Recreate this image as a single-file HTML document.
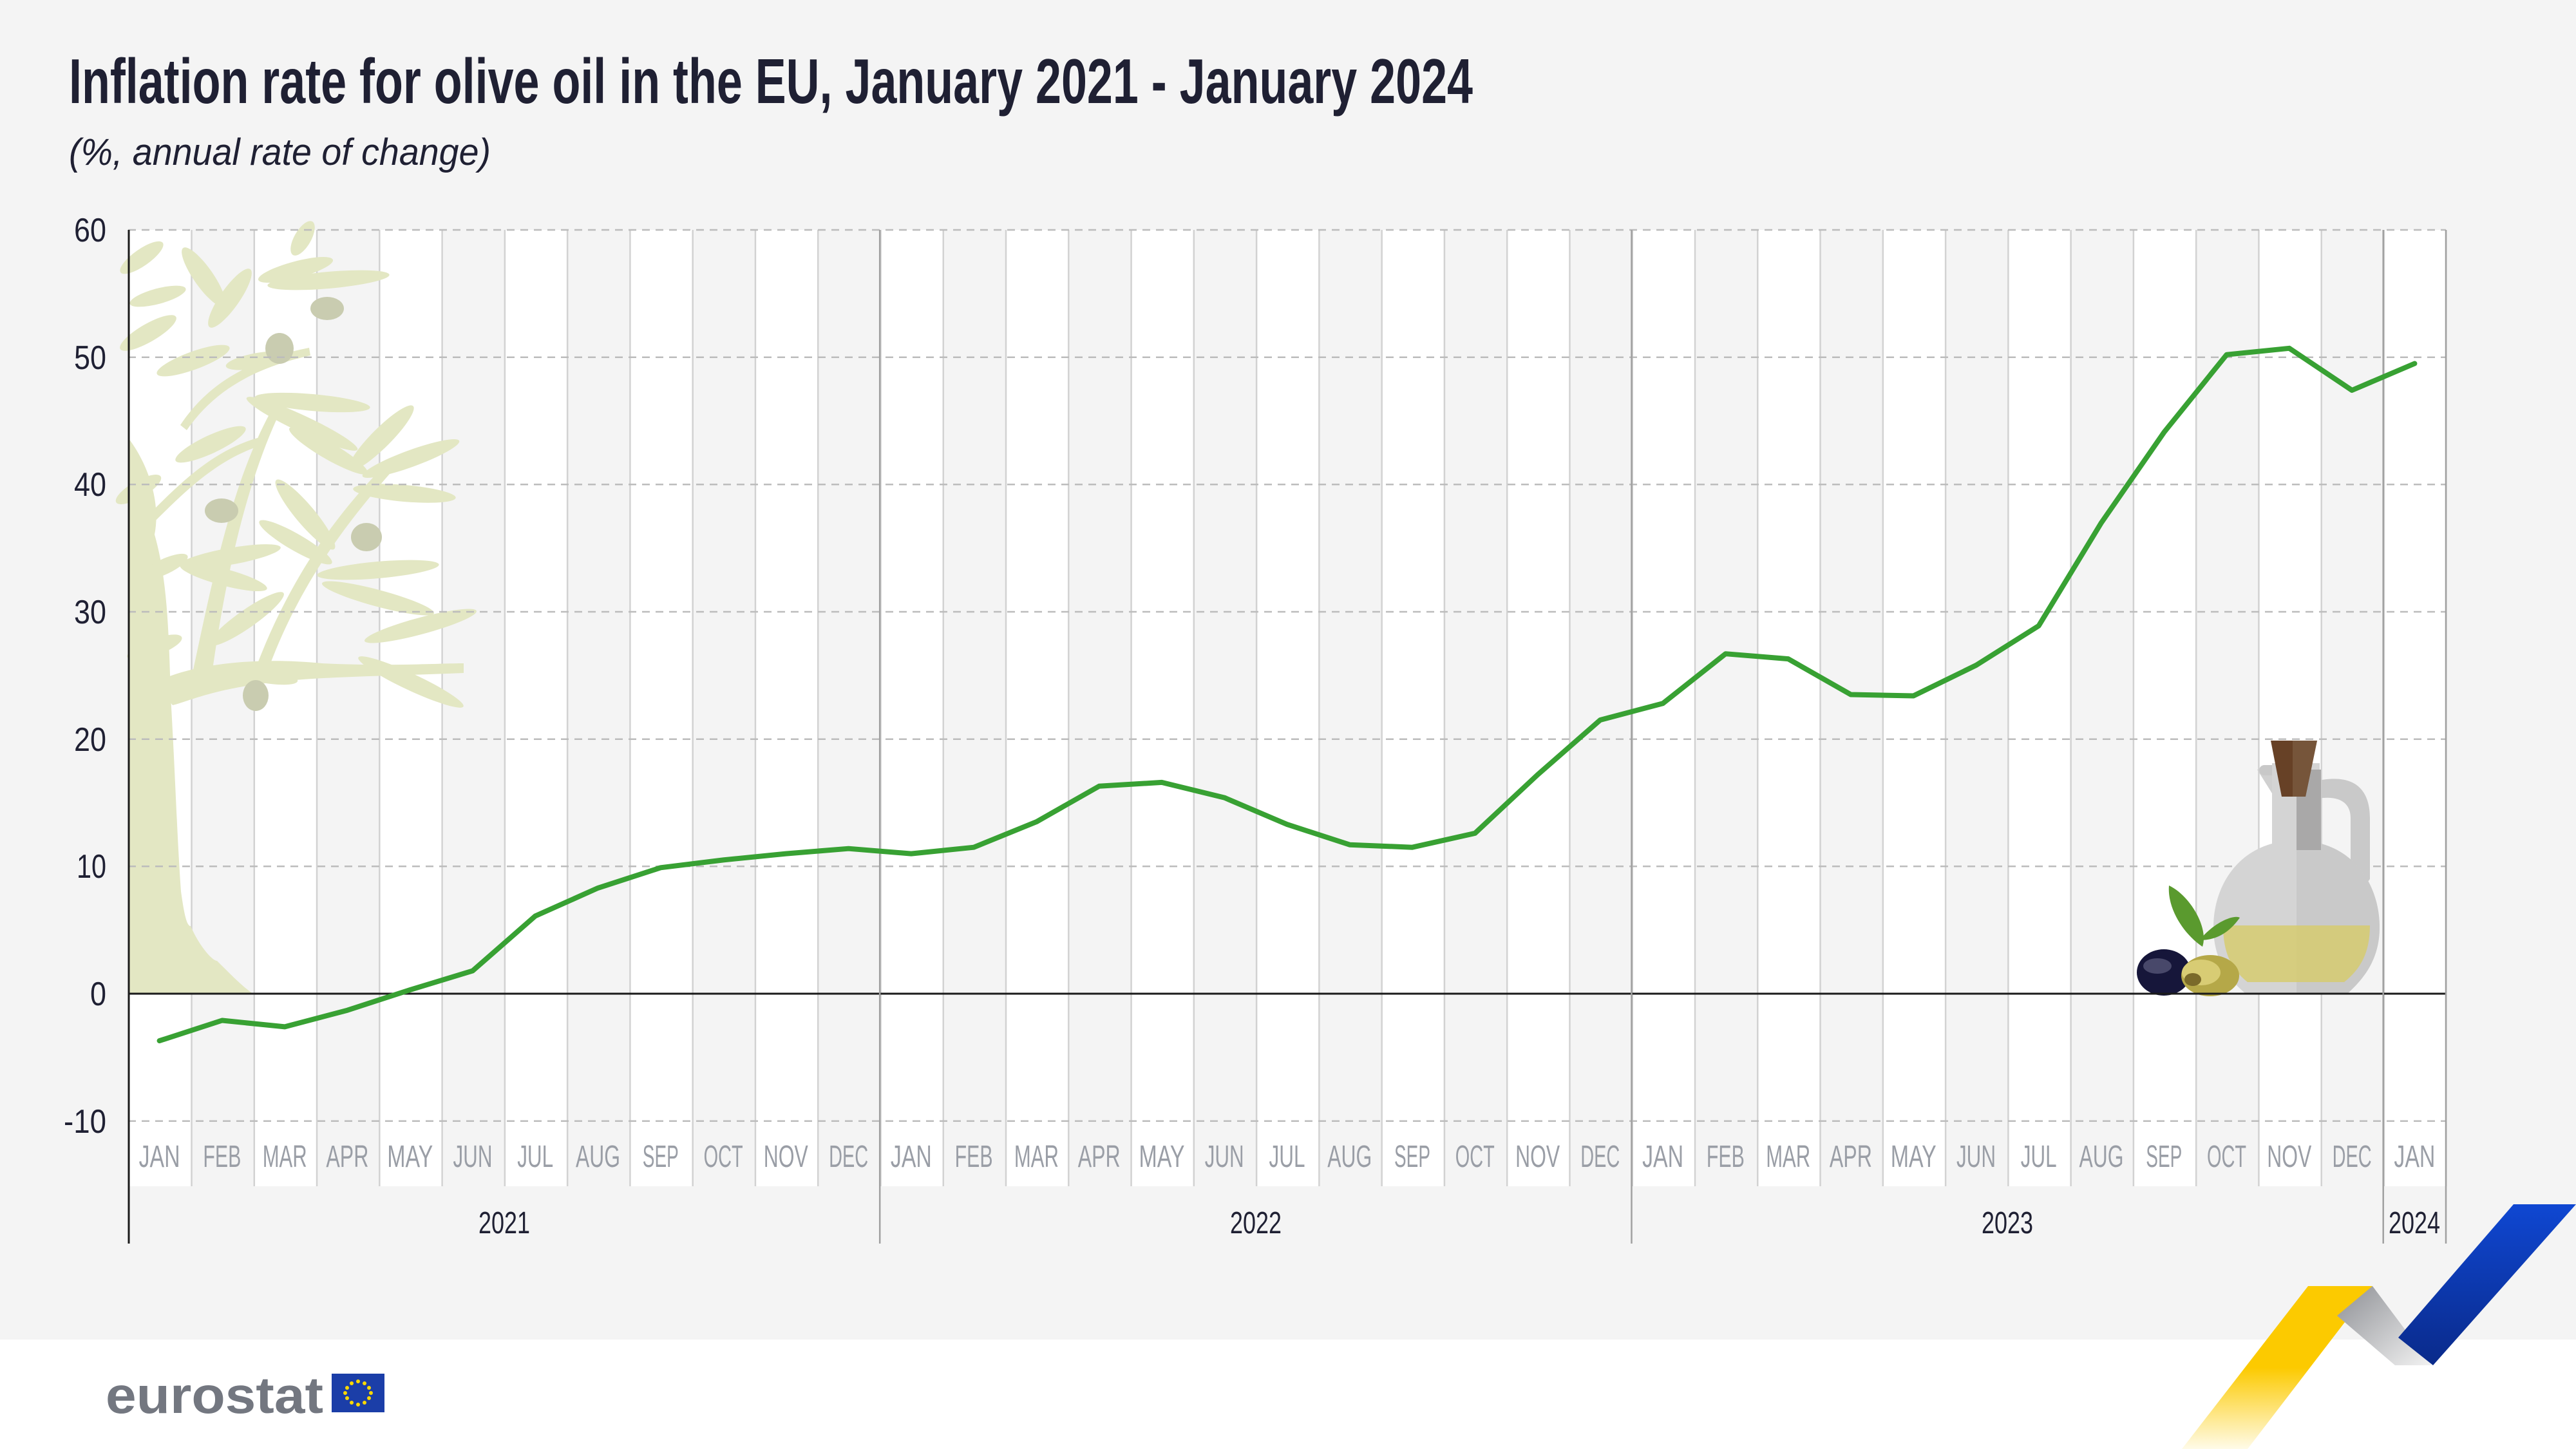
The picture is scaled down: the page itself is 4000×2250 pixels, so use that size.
<!DOCTYPE html>
<html><head><meta charset="utf-8"><style>
html,body{margin:0;padding:0;background:#f4f4f4;}
svg{display:block;}
</style></head><body>
<svg width="4000" height="2250" viewBox="0 0 4000 2250" xmlns="http://www.w3.org/2000/svg" font-family="'Liberation Sans Narrow','Liberation Sans',sans-serif">
<defs>
<pattern id="cols" patternUnits="userSpaceOnUse" x="199" y="0" width="194.54" height="2250">
<rect x="0" y="0" width="97.27" height="2250" fill="#ffffff"/>
<rect x="0" y="0" width="2.5" height="2250" fill="#d2d2d2"/>
<rect x="97.27" y="0" width="2.5" height="2250" fill="#d2d2d2"/>
</pattern>
<linearGradient id="yg" x1="0" y1="0" x2="0" y2="1"><stop offset="0" stop-color="#fcca00"/><stop offset="0.5" stop-color="#fcca00"/><stop offset="1" stop-color="#fffbe8"/></linearGradient>
<linearGradient id="gg" x1="0" y1="0" x2="1" y2="1"><stop offset="0" stop-color="#8e9095"/><stop offset="1" stop-color="#f2f2f2"/></linearGradient>
<linearGradient id="bg" x1="0" y1="0" x2="0" y2="1"><stop offset="0" stop-color="#0f47d2"/><stop offset="1" stop-color="#0a2a8a"/></linearGradient>
</defs>
<rect x="0" y="0" width="4000" height="2250" fill="#f4f4f4"/>
<rect x="0" y="2080" width="4000" height="170" fill="#ffffff"/>

<!-- title -->
<text x="107" y="160" font-size="98" font-weight="bold" fill="#1f2033" textLength="2180" lengthAdjust="spacingAndGlyphs">Inflation rate for olive oil in the EU, January 2021 - January 2024</text>
<text x="107" y="256" font-size="58" font-style="italic" fill="#1f2033" font-family="'Liberation Sans',sans-serif" textLength="655" lengthAdjust="spacingAndGlyphs">(%, annual rate of change)</text>

<!-- columns -->
<rect x="199" y="357" width="3599" height="1485" fill="url(#cols)"/>
<rect x="3797" y="357" width="2.5" height="1485" fill="#d2d2d2"/>

<!-- tree -->
<g fill="#e3e7c3">
<path d="M199,680 C230,720 250,780 240,830 C260,900 262,980 265,1080 C273,1221 275,1300 281,1384 C286,1420 290,1438 296,1438 C310,1470 330,1492 337,1492 C360,1515 380,1535 393,1543 L199,1543 Z"/>
<path d="M240,1060 C300,1030 400,1020 500,1030 C600,1035 680,1030 720,1030 L720,1045 C600,1050 500,1050 420,1060 C330,1070 290,1090 268,1095 Z"/>
<path d="M300,1040 C330,900 360,750 420,640 L430,650 C380,760 350,900 330,1040 Z"/>
<path d="M400,1030 C450,900 520,800 600,720 L610,730 C540,810 470,900 420,1030 Z"/>
<path d="M230,800 C280,750 330,700 400,680 L405,692 C340,712 290,760 240,810 Z"/>
<path d="M280,660 C320,600 380,560 480,540 L482,552 C390,572 330,610 290,668 Z"/>
<g>
<ellipse cx="510" cy="435" rx="95" ry="13" transform="rotate(-5 510 435)"/>
<ellipse cx="459" cy="419" rx="60" ry="13" transform="rotate(-15 459 419)"/>
<ellipse cx="357" cy="463" rx="55" ry="15" transform="rotate(-55 357 463)"/>
<ellipse cx="316" cy="430" rx="55" ry="15" transform="rotate(55 316 430)"/>
<ellipse cx="230" cy="517" rx="50" ry="14" transform="rotate(-30 230 517)"/>
<ellipse cx="220" cy="400" rx="40" ry="13" transform="rotate(-35 220 400)"/>
<ellipse cx="485" cy="625" rx="90" ry="13" transform="rotate(5 485 625)"/>
<ellipse cx="469" cy="658" rx="95" ry="13" transform="rotate(25 469 658)"/>
<ellipse cx="510" cy="700" rx="70" ry="13" transform="rotate(30 510 700)"/>
<ellipse cx="592" cy="680" rx="70" ry="15" transform="rotate(-45 592 680)"/>
<ellipse cx="638" cy="712" rx="80" ry="13" transform="rotate(-20 638 712)"/>
<ellipse cx="628" cy="766" rx="80" ry="13" transform="rotate(5 628 766)"/>
<ellipse cx="327" cy="690" rx="60" ry="14" transform="rotate(-25 327 690)"/>
<ellipse cx="357" cy="864" rx="80" ry="13" transform="rotate(-10 357 864)"/>
<ellipse cx="347" cy="896" rx="70" ry="13" transform="rotate(15 347 896)"/>
<ellipse cx="474" cy="799" rx="70" ry="15" transform="rotate(50 474 799)"/>
<ellipse cx="459" cy="842" rx="65" ry="13" transform="rotate(30 459 842)"/>
<ellipse cx="587" cy="885" rx="95" ry="13" transform="rotate(-5 587 885)"/>
<ellipse cx="587" cy="929" rx="90" ry="13" transform="rotate(15 587 929)"/>
<ellipse cx="383" cy="961" rx="70" ry="14" transform="rotate(-35 383 961)"/>
<ellipse cx="653" cy="972" rx="90" ry="13" transform="rotate(-15 653 972)"/>
<ellipse cx="638" cy="1059" rx="90" ry="13" transform="rotate(25 638 1059)"/>
<ellipse cx="408" cy="1048" rx="55" ry="12" transform="rotate(10 408 1048)"/>
<ellipse cx="240" cy="1005" rx="45" ry="13" transform="rotate(-20 240 1005)"/>
<ellipse cx="215" cy="760" rx="40" ry="13" transform="rotate(-30 215 760)"/>
<ellipse cx="300" cy="560" rx="60" ry="14" transform="rotate(-20 300 560)"/>
<ellipse cx="470" cy="370" rx="30" ry="13" transform="rotate(-60 470 370)"/>
<ellipse cx="245" cy="460" rx="45" ry="12" transform="rotate(-15 245 460)"/>
<ellipse cx="400" cy="560" rx="50" ry="12" transform="rotate(-10 400 560)"/>
<ellipse cx="255" cy="880" rx="40" ry="12" transform="rotate(-25 255 880)"/>
</g>
</g>
<g fill="#c9ccb0">
<ellipse cx="508" cy="479" rx="26" ry="18"/>
<ellipse cx="434" cy="541" rx="22" ry="24"/>
<ellipse cx="344" cy="793" rx="26" ry="19"/>
<ellipse cx="569" cy="834" rx="24" ry="22"/>
<ellipse cx="397" cy="1080" rx="20" ry="24"/>
</g>

<!-- horizontal grid -->
<g stroke="#bcbcbc" stroke-width="2.5" stroke-dasharray="12,9">
<line x1="199" y1="357" x2="3798" y2="357"/>
<line x1="199" y1="554.7" x2="3798" y2="554.7"/>
<line x1="199" y1="752.3" x2="3798" y2="752.3"/>
<line x1="199" y1="950" x2="3798" y2="950"/>
<line x1="199" y1="1147.7" x2="3798" y2="1147.7"/>
<line x1="199" y1="1345.3" x2="3798" y2="1345.3"/>
<line x1="199" y1="1740.7" x2="3798" y2="1740.7"/>
</g>

<!-- jug & olives -->
<g>
<path d="M3505,1195 L3540,1190 L3530,1235 Z" fill="#d0d0d0"/>
<rect x="3508" y="1188" width="40" height="16" rx="8" fill="#c8c8c8"/>
<path d="M3600,1212 C3660,1200 3680,1230 3680,1270 L3680,1365 L3665,1385 L3650,1360 L3650,1270 C3650,1245 3630,1235 3600,1240 Z" fill="#c9c9c9"/>
<rect x="3528" y="1185" width="74" height="150" fill="#d4d4d4"/>
<path d="M3566,1305 C3650,1305 3695,1370 3695,1440 C3695,1490 3670,1520 3645,1543 L3487,1543 C3460,1520 3437,1490 3437,1440 C3437,1370 3482,1305 3566,1305 Z" fill="#d4d4d4"/>
<path d="M3566,1305 L3566,1543 L3645,1543 C3670,1520 3695,1490 3695,1440 C3695,1370 3650,1305 3566,1305 Z" fill="#c6c6c6" opacity="0.8"/>
<path d="M3452,1437 L3680,1437 C3680,1480 3665,1505 3640,1525 L3490,1525 C3465,1505 3452,1480 3452,1437 Z" fill="#d6cb70" opacity="0.85"/>
<rect x="3566" y="1195" width="38" height="125" fill="#a9a8a8"/>
<path d="M3526,1150 L3598,1150 L3580,1237 L3543,1237 Z" fill="#674126"/>
<path d="M3560,1150 L3598,1150 L3580,1237 L3560,1237 Z" fill="#7a5a40" opacity="0.8"/>
<path d="M3368,1375 C3400,1390 3430,1440 3420,1470 C3390,1450 3365,1410 3368,1375 Z" fill="#5a9a2e"/>
<path d="M3415,1460 C3440,1430 3470,1420 3478,1425 C3460,1450 3440,1460 3415,1460 Z" fill="#5a9a2e"/>
<ellipse cx="3360" cy="1510" rx="42" ry="36" fill="#16163a"/>
<ellipse cx="3350" cy="1500" rx="22" ry="12" fill="#6a6a8a" opacity="0.6"/>
<ellipse cx="3432" cy="1515" rx="45" ry="32" fill="#b5a848"/>
<ellipse cx="3418" cy="1510" rx="30" ry="20" fill="#d8cc74"/>
<ellipse cx="3405" cy="1521" rx="13" ry="10" fill="#7a6a2a"/>
</g>

<!-- zero line & axes -->
<line x1="199" y1="1543" x2="3798" y2="1543" stroke="#1a1a1a" stroke-width="3"/>
<line x1="200" y1="357" x2="200" y2="1931" stroke="#1a1a1a" stroke-width="3"/>
<g stroke="#a0a0a0" stroke-width="2.5">
<line x1="1366.2" y1="357" x2="1366.2" y2="1931"/>
<line x1="2533.5" y1="357" x2="2533.5" y2="1931"/>
<line x1="3700.7" y1="357" x2="3700.7" y2="1931"/>
<line x1="3798" y1="357" x2="3798" y2="1931"/>
</g>

<!-- y labels -->
<g font-size="52" fill="#1f2033" text-anchor="end" font-family="'Liberation Sans',sans-serif">
<text x="165" y="375" textLength="50" lengthAdjust="spacingAndGlyphs">60</text>
<text x="165" y="573" textLength="50" lengthAdjust="spacingAndGlyphs">50</text>
<text x="165" y="770" textLength="50" lengthAdjust="spacingAndGlyphs">40</text>
<text x="165" y="968" textLength="50" lengthAdjust="spacingAndGlyphs">30</text>
<text x="165" y="1166" textLength="50" lengthAdjust="spacingAndGlyphs">20</text>
<text x="165" y="1363" textLength="46" lengthAdjust="spacingAndGlyphs">10</text>
<text x="165" y="1561" textLength="25" lengthAdjust="spacingAndGlyphs">0</text>
<text x="165" y="1759" textLength="66" lengthAdjust="spacingAndGlyphs">-10</text>
</g>

<!-- data line -->
<polyline fill="none" stroke="#38a133" stroke-width="8" stroke-linejoin="round" stroke-linecap="round" points="247.6,1616.1 344.9,1584.5 442.2,1594.4 539.4,1568.7 636.7,1537.1 734.0,1507.4 831.2,1422.4 928.5,1378.9 1025.8,1347.3 1123.1,1335.4 1220.3,1325.6 1317.6,1317.7 1414.9,1325.6 1512.1,1315.7 1609.4,1276.1 1706.7,1220.8 1804.0,1214.9 1901.2,1238.6 1998.5,1280.1 2095.8,1311.7 2193.0,1315.7 2290.3,1293.9 2387.6,1203.0 2484.8,1118.0 2582.1,1092.3 2679.4,1015.2 2776.7,1023.1 2873.9,1078.5 2971.2,1080.5 3068.5,1033.0 3165.7,971.7 3263.0,811.6 3360.3,671.3 3457.5,550.7 3554.8,540.8 3652.1,606.0 3749.4,564.5"/>

<!-- month labels -->
<g font-size="48" fill="#9a9ea6" text-anchor="middle" lengthAdjust="spacingAndGlyphs">
<text x="247.6" y="1812" textLength="64" lengthAdjust="spacingAndGlyphs">JAN</text><text x="344.9" y="1812" textLength="59" lengthAdjust="spacingAndGlyphs">FEB</text><text x="442.2" y="1812" textLength="69" lengthAdjust="spacingAndGlyphs">MAR</text><text x="539.4" y="1812" textLength="66" lengthAdjust="spacingAndGlyphs">APR</text><text x="636.7" y="1812" textLength="71" lengthAdjust="spacingAndGlyphs">MAY</text><text x="734.0" y="1812" textLength="61" lengthAdjust="spacingAndGlyphs">JUN</text><text x="831.2" y="1812" textLength="56" lengthAdjust="spacingAndGlyphs">JUL</text><text x="928.5" y="1812" textLength="69" lengthAdjust="spacingAndGlyphs">AUG</text><text x="1025.8" y="1812" textLength="56" lengthAdjust="spacingAndGlyphs">SEP</text><text x="1123.1" y="1812" textLength="61" lengthAdjust="spacingAndGlyphs">OCT</text><text x="1220.3" y="1812" textLength="69" lengthAdjust="spacingAndGlyphs">NOV</text><text x="1317.6" y="1812" textLength="61" lengthAdjust="spacingAndGlyphs">DEC</text>
<text x="1414.9" y="1812" textLength="64" lengthAdjust="spacingAndGlyphs">JAN</text><text x="1512.1" y="1812" textLength="59" lengthAdjust="spacingAndGlyphs">FEB</text><text x="1609.4" y="1812" textLength="69" lengthAdjust="spacingAndGlyphs">MAR</text><text x="1706.7" y="1812" textLength="66" lengthAdjust="spacingAndGlyphs">APR</text><text x="1804.0" y="1812" textLength="71" lengthAdjust="spacingAndGlyphs">MAY</text><text x="1901.2" y="1812" textLength="61" lengthAdjust="spacingAndGlyphs">JUN</text><text x="1998.5" y="1812" textLength="56" lengthAdjust="spacingAndGlyphs">JUL</text><text x="2095.8" y="1812" textLength="69" lengthAdjust="spacingAndGlyphs">AUG</text><text x="2193.0" y="1812" textLength="56" lengthAdjust="spacingAndGlyphs">SEP</text><text x="2290.3" y="1812" textLength="61" lengthAdjust="spacingAndGlyphs">OCT</text><text x="2387.6" y="1812" textLength="69" lengthAdjust="spacingAndGlyphs">NOV</text><text x="2484.8" y="1812" textLength="61" lengthAdjust="spacingAndGlyphs">DEC</text>
<text x="2582.1" y="1812" textLength="64" lengthAdjust="spacingAndGlyphs">JAN</text><text x="2679.4" y="1812" textLength="59" lengthAdjust="spacingAndGlyphs">FEB</text><text x="2776.7" y="1812" textLength="69" lengthAdjust="spacingAndGlyphs">MAR</text><text x="2873.9" y="1812" textLength="66" lengthAdjust="spacingAndGlyphs">APR</text><text x="2971.2" y="1812" textLength="71" lengthAdjust="spacingAndGlyphs">MAY</text><text x="3068.5" y="1812" textLength="61" lengthAdjust="spacingAndGlyphs">JUN</text><text x="3165.7" y="1812" textLength="56" lengthAdjust="spacingAndGlyphs">JUL</text><text x="3263.0" y="1812" textLength="69" lengthAdjust="spacingAndGlyphs">AUG</text><text x="3360.3" y="1812" textLength="56" lengthAdjust="spacingAndGlyphs">SEP</text><text x="3457.5" y="1812" textLength="61" lengthAdjust="spacingAndGlyphs">OCT</text><text x="3554.8" y="1812" textLength="69" lengthAdjust="spacingAndGlyphs">NOV</text><text x="3652.1" y="1812" textLength="61" lengthAdjust="spacingAndGlyphs">DEC</text>
<text x="3749.4" y="1812" textLength="64" lengthAdjust="spacingAndGlyphs">JAN</text>
</g>
<g font-size="48" fill="#1f2033" text-anchor="middle">
<text x="783" y="1915" textLength="80" lengthAdjust="spacingAndGlyphs">2021</text>
<text x="1950" y="1915" textLength="80" lengthAdjust="spacingAndGlyphs">2022</text>
<text x="3117" y="1915" textLength="80" lengthAdjust="spacingAndGlyphs">2023</text>
<text x="3749" y="1915" textLength="80" lengthAdjust="spacingAndGlyphs">2024</text>
</g>

<!-- ribbons -->
<polygon points="3584,1997 3684,1997 3490,2250 3388,2250" fill="url(#yg)"/>
<polygon points="3684,1997 3629,2043 3719,2120 3776,2120" fill="url(#gg)"/>
<polygon points="3903,1870 4000,1870 3778,2120 3724,2077" fill="url(#bg)"/>

<!-- eurostat logo -->
<text x="164" y="2194" font-size="80" font-weight="bold" fill="#737780" font-family="'Liberation Sans',sans-serif" textLength="338" lengthAdjust="spacingAndGlyphs">eurostat</text>
<rect x="515" y="2133" width="82" height="60" fill="#1b3ea8"/>
<g fill="#fcd800">
<circle cx="556" cy="2145" r="3"/><circle cx="566" cy="2148" r="3"/><circle cx="573" cy="2155" r="3"/><circle cx="576" cy="2163" r="3"/><circle cx="573" cy="2171" r="3"/><circle cx="566" cy="2178" r="3"/><circle cx="556" cy="2181" r="3"/><circle cx="546" cy="2178" r="3"/><circle cx="539" cy="2171" r="3"/><circle cx="536" cy="2163" r="3"/><circle cx="539" cy="2155" r="3"/><circle cx="546" cy="2148" r="3"/>
</g>
</svg>
</body></html>
